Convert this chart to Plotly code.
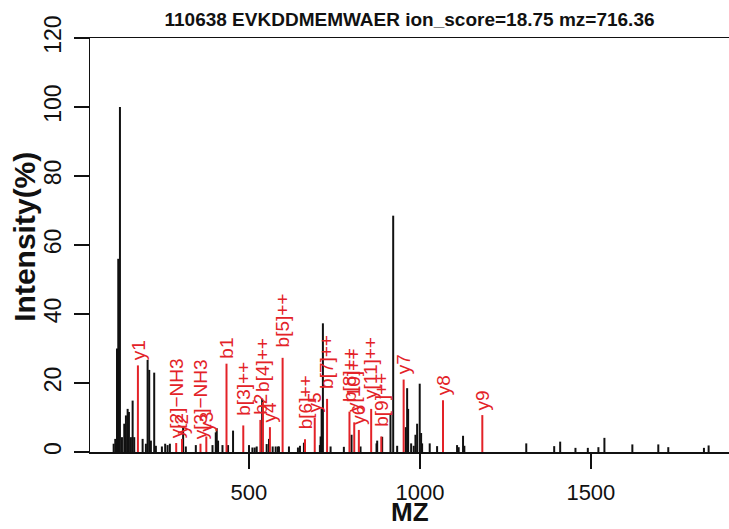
import plotly.graph_objects as go

# ---- data ----
title_text = "110638 EVKDDMEMWAER ion_score=18.75 mz=716.36"

peak_mz = [104.2, 108.9, 113.9, 117.7, 122.6, 128.5, 135.2, 140.1, 145.1, 148.9,
           154.7, 159.7, 164.4, 188.9, 198.5, 203.5, 208.2, 213.1, 222.8, 227.7,
           245.3, 254.9, 261.9, 268.6, 307.4, 315.3, 344.5, 393.3, 402.9, 405.8,
           409.6, 422.5, 438.8, 453.4, 500.1, 510.0, 516.8, 522.6, 538.5, 551.8,
           558.5, 569.3, 578.1, 584.8, 587.7, 616.9, 643.2, 649.1, 660.7, 707.4,
           709.5, 712.4, 716.2, 738.7, 777.5, 800.0, 826.3, 873.0, 875.0, 889.6,
           913.9, 921.8, 933.4, 958.5, 962.6, 965.5, 974.3, 981.9, 986.9, 991.8,
           999.4, 1003.5, 1006.4, 1028.6, 1050.2, 1108.6, 1113.3, 1126.1, 1129.9, 1311.0,
           1392.7, 1410.2, 1454.9, 1491.1, 1522.0, 1539.6, 1621.3, 1697.2, 1726.4, 1830.7,
           1844.4]
peak_int = [2.4, 3.8, 30, 56, 100, 4.3, 8.2, 10.6, 12.5, 11.6,
            4.3, 14.9, 4.3, 3.8, 2.4, 26.7, 23.8, 3.3, 23, 1.8,
            1.6, 2.4, 2, 2.4, 7, 1.6, 2, 2, 5.7, 6.9,
            3.3, 2, 2, 6.2, 2, 1.3, 1.3, 1.6, 15.5, 2.3,
            3.8, 1.6, 1.6, 1.6, 1.6, 1.6, 1.3, 1.8, 2.7, 2,
            4.5, 12.5, 37.3, 1.6, 1.5, 5, 1.6, 2.5, 3.3, 4.4,
            10.9, 68.5, 1.8, 7.2, 18.5, 12.5, 2.5, 1.8, 5, 8.2,
            19.8, 5.5, 2.5, 2.5, 1.7, 2, 1.4, 4.7, 1.8, 2.5,
            1.7, 3, 1.2, 1.2, 1.4, 4.1, 2.2, 2.2, 1.4, 1.2,
            1.9]

ion_labels = ["y1", "y[2]\u2212NH3", "y2", "y[3]\u2212NH3", "y3", "b1", "b[3]++", "b2",
              "b[4]++", "y4", "b[5]++", "b[6]++", "y5", "b[7]++", "b[8]++", "y[10]++",
              "y6", "y[11]++", "b[9]++", "y7", "y8", "y9"]
ion_mz = [175.12, 287.14, 304.16, 358.17, 375.20, 434.26, 483.32, 533.33,
          540.83, 561.28, 598.35, 663.87, 692.32, 728.39, 793.91, 807.88,
          821.36, 857.42, 886.95, 952.40, 1067.43, 1182.46]
ion_int = [25.1, 2.6, 3.8, 2.4, 4.5, 25.6, 7.7, 9.3,
           14.5, 7.2, 27.3, 3.7, 9.9, 15.4, 11.7, 8.6,
           6.4, 12.5, 4.5, 21, 15, 10.7]

x_ticks = [500, 1000, 1500]
y_ticks = [0, 20, 40, 60, 80, 100, 120]
x_title = "MZ"
y_title = "Intensity(%)"

assert len(peak_mz) == len(peak_int)
assert len(ion_mz) == len(ion_int) == len(ion_labels)

RED = "#E32228"
INK = "#111111"
FONT = "Liberation Sans"


def sticks(xs, ys):
    sx, sy = [], []
    for x, y in zip(xs, ys):
        sx += [x, x, None]
        sy += [0, y, None]
    return sx, sy


fig = go.Figure()
bx, by = sticks(peak_mz, peak_int)
fig.add_trace(go.Scatter(x=bx, y=by, mode="lines", line=dict(color=INK, width=2),
                         hoverinfo="skip", showlegend=False))
rx, ry = sticks(ion_mz, ion_int)
fig.add_trace(go.Scatter(x=rx, y=ry, mode="lines", line=dict(color=RED, width=2),
                         hoverinfo="skip", showlegend=False))

for lab, x, y in zip(ion_labels, ion_mz, ion_int):
    gap = 8 if lab.endswith("++") else 3
    fig.add_annotation(x=x, y=y, text=lab, showarrow=False, textangle=-90,
                       xanchor="center", yanchor="bottom", yshift=gap,
                       font=dict(family=FONT, size=19, color=RED))

# axis titles placed as paper annotations
fig.add_annotation(xref="paper", yref="paper", x=0.5, y=-60 / 414, text=x_title,
                   showarrow=False, xanchor="center", yanchor="middle", borderpad=0,
                   font=dict(family=FONT, size=26, color=INK, weight="bold"))
fig.add_annotation(xref="paper", yref="paper", x=-65 / 639, y=0.52, text=y_title,
                   showarrow=False, xanchor="center", yanchor="middle", textangle=-90,
                   font=dict(family=FONT, size=30, color=INK, weight="bold"))

fig.update_layout(
    width=729, height=529,
    margin=dict(l=90, r=0, t=38, b=77, autoexpand=False),
    paper_bgcolor="white", plot_bgcolor="white",
    title=dict(text=title_text, x=409.5 / 729, xanchor="center", y=1 - 19 / 529, yanchor="middle",
               xref="container", yref="container",
               font=dict(family=FONT, size=19, color=INK, weight="bold")),
    xaxis=dict(range=[35, 1904], tickvals=x_ticks, ticks="outside", ticklen=15,
               tickwidth=1.5, tickcolor=INK, automargin=False,
               showline=True, linecolor=INK, linewidth=1.5, mirror=True,
               showgrid=False, zeroline=False, ticklabelstandoff=5,
               tickfont=dict(family=FONT, size=22, color=INK)),
    yaxis=dict(range=[0, 120], tickvals=y_ticks, ticks="outside", ticklen=15,
               tickwidth=1.5, tickcolor=INK, tickangle=-90, automargin=False,
               showline=True, linecolor=INK, linewidth=1.5, mirror=False,
               showgrid=False, zeroline=False, ticklabelstandoff=3,
               tickfont=dict(family=FONT, size=23, color=INK)),
)

fig.write_html("out.html", config={"displayModeBar": False, "staticPlot": True},
               post_script="document.body.style.margin='0';document.body.style.padding='0';"
                           "document.body.style.overflow='hidden';")
